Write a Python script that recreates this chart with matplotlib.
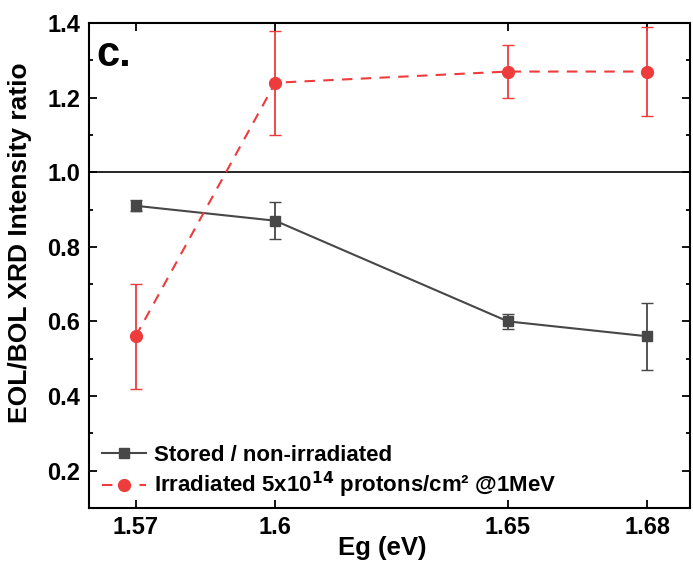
import numpy as np
import matplotlib.pyplot as plt
import matplotlib.ticker as ticker
from matplotlib.lines import Line2D

plt.rcParams['font.family'] = ['Liberation Sans', 'DejaVu Sans']
plt.rcParams['font.weight'] = 'bold'

# band gap values (eV)
eg = [1.57, 1.60, 1.65, 1.68]

# stored / non-irradiated
stored = [0.91, 0.87, 0.60, 0.56]
stored_err = [0.015, 0.05, 0.02, 0.09]

# irradiated 5e14 protons/cm2 @ 1MeV
irr = [0.56, 1.24, 1.27, 1.27]
irr_err = [0.14, 0.14, 0.07, 0.12]

tick_labels = ['1.57', '1.6', '1.65', '1.68']

gray = '#474747'
red = '#ee3b3b'

fig = plt.figure(figsize=(6.93, 5.63), dpi=100)
ax = fig.add_axes([0.128, 0.098, 0.868, 0.861])

ax.errorbar(eg, stored, yerr=stored_err, color=gray, marker='s', ms=7.5,
            lw=1.5, capsize=4, elinewidth=1.3)
ax.errorbar(eg, irr, yerr=irr_err, color=red, marker='o', ms=8.5,
            lw=1.5, ls='--', dashes=(5, 4), capsize=4, elinewidth=1.3)

ax.axhline(1.0, color='black', lw=1.2)

ax.set_xlim(1.5599, 1.6892)
ax.set_ylim(0.1, 1.4)
ax.set_xticks(eg)
ax.set_xticklabels(tick_labels)
ax.yaxis.set_major_locator(ticker.MultipleLocator(0.2))
ax.yaxis.set_minor_locator(ticker.MultipleLocator(0.1))
ax.yaxis.set_major_formatter(ticker.FormatStrFormatter('%.1f'))

ax.tick_params(which='both', direction='in', top=True, right=True,
               labelsize=17, width=1.3)
ax.tick_params(which='major', length=6, pad=6)
ax.tick_params(which='minor', length=3)
for sp in ax.spines.values():
    sp.set_linewidth(1.5)

ax.set_xlabel('Eg (eV)', fontsize=18.5, fontweight='bold')
ax.set_ylabel('EOL/BOL XRD Intensity ratio', fontsize=19, fontweight='bold')
ax.xaxis.set_label_coords(0.488, -0.058)
ax.yaxis.set_label_coords(-0.094, 0.546)

ax.text(0.012, 0.975, 'c.', transform=ax.transAxes, fontsize=30,
        fontweight='bold', va='top', ha='left')

handles = [
    Line2D([], [], color=gray, marker='s', ms=6.5, lw=1.5),
    Line2D([], [], color=red, marker='o', ms=8.5, lw=1.5, ls='--',
           dashes=(5, 4)),
]
labels = ['Stored / non-irradiated',
          r'Irradiated 5x10$^{\mathbf{14}}$ protons/cm² @1MeV']
ax.legend(handles, labels, loc='lower left', frameon=False, fontsize=16,
          handlelength=2.0, handletextpad=0.35, borderaxespad=0.2,
          labelspacing=0.2, bbox_to_anchor=(0.0, -0.012))

fig.savefig('out.png', dpi=100)
